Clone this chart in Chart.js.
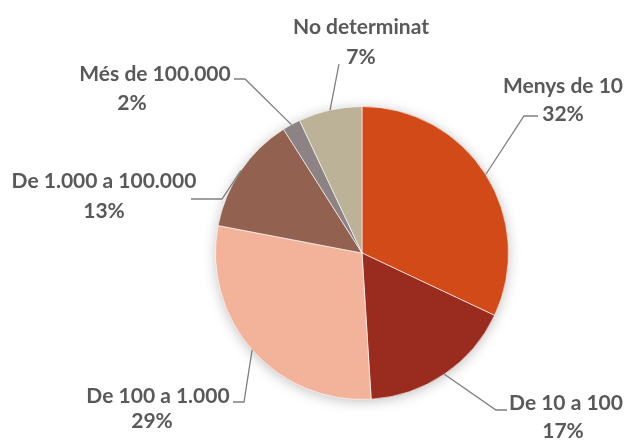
<!DOCTYPE html>
<html>
  <head>
    <meta charset="utf-8">
    <script src="https://cdn.jsdelivr.net/npm/chart.js@4.4.0/dist/chart.umd.min.js"></script>
    <style>
      html, body { margin: 0; padding: 0; background: #fff; }
      .chart-container { width: 628px; height: 440px; }
    </style>
  </head>
  <body>
    <div class="chart-container">
      <canvas id="myChart" width="628" height="440"></canvas>
    </div>
    <script>
      // data
      var categories = ["Menys de 10", "De 10 a 100", "De 100 a 1.000", "De 1.000 a 100.000", "Més de 100.000", "No determinat"];
      var percentages = [32, 17, 29, 13, 2, 7];
      var colors = ["#D24A18", "#9A2B1F", "#F3B39B", "#93614F", "#8E8384", "#BCB298"];

      // label placement: text centre, percent centre, leader elbow and end
      var labelLayout = [
        { tx: 563, ty: 86, px: 563, py: 114, elbow: [524, 116], end: [538, 116] },
        { tx: 566, ty: 403, px: 563, py: 431, elbow: [496, 410], end: [507, 410] },
        { tx: 158, ty: 396, px: 152, py: 421, elbow: [244, 402], end: [233, 402] },
        { tx: 104, ty: 181, px: 104, py: 211, elbow: [222, 199], end: [191, 199] },
        { tx: 155, ty: 74, px: 132, py: 103, elbow: [245, 79], end: [234, 79] },
        { tx: 361, ty: 27, px: 361, py: 57, elbow: [339, 64], end: [339, 64] }
      ];

      var shadowPlugin = {
        id: "pieShadow",
        beforeDatasetsDraw: function (chart) {
          var arc = chart.getDatasetMeta(0).data[0];
          var ctx = chart.ctx;
          ctx.save();
          ctx.shadowColor = "rgba(0,0,0,0.28)";
          ctx.shadowBlur = 14;
          ctx.shadowOffsetX = 0;
          ctx.shadowOffsetY = 2;
          ctx.fillStyle = "#fff";
          ctx.beginPath();
          ctx.arc(arc.x, arc.y, arc.outerRadius - 1, 0, Math.PI * 2);
          ctx.fill();
          ctx.restore();
        }
      };

      var labelPlugin = {
        id: "pieLabels",
        afterDatasetsDraw: function (chart) {
          var ctx = chart.ctx;
          var meta = chart.getDatasetMeta(0);
          ctx.save();
          meta.data.forEach(function (arc, i) {
            var lay = labelLayout[i];
            var mid = (arc.startAngle + arc.endAngle) / 2;
            var sx = arc.x + Math.cos(mid) * arc.outerRadius;
            var sy = arc.y + Math.sin(mid) * arc.outerRadius;
            ctx.strokeStyle = "#7F7F7F";
            ctx.lineWidth = 1.3;
            ctx.beginPath();
            ctx.moveTo(sx, sy);
            ctx.lineTo(lay.elbow[0], lay.elbow[1]);
            ctx.lineTo(lay.end[0], lay.end[1]);
            ctx.stroke();

            ctx.fillStyle = "#595959";
            ctx.font = "bold 21px Lato, 'Open Sans', sans-serif";
            ctx.textAlign = "center";
            ctx.textBaseline = "middle";
            ctx.fillText(categories[i], lay.tx, lay.ty);
            ctx.fillText(percentages[i] + "%", lay.px, lay.py);
          });
          ctx.restore();
        }
      };

      var ctx = document.getElementById("myChart").getContext("2d");
      var chart = new Chart(ctx, {
        type: "pie",
        data: {
          labels: categories,
          datasets: [
            {
              data: percentages,
              backgroundColor: colors,
              borderColor: "rgba(255,255,255,0.6)",
              borderWidth: 1
            }
          ]
        },
        options: {
          responsive: false,
          animation: false,
          layout: { padding: { top: 106, bottom: 40, left: 215, right: 119 } },
          plugins: {
            legend: { display: false },
            tooltip: { enabled: false }
          }
        },
        plugins: [shadowPlugin, labelPlugin]
      });
    </script>
  </body>
</html>
